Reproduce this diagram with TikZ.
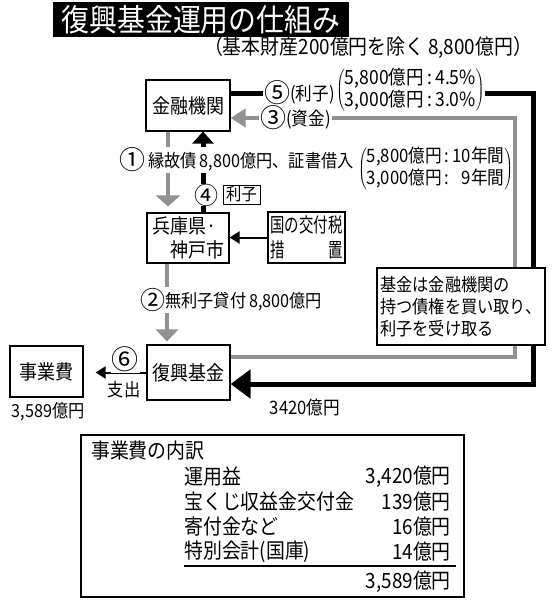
\documentclass[tikz,border=0pt]{standalone}
\usepackage{fontspec}
\setmainfont{Noto Sans CJK JP}[FakeStretch=0.9]
\newfontfamily\narrowfont{Noto Sans CJK JP}[FakeStretch=0.72]
\newfontfamily\circfont{Noto Sans CJK JP}
\usetikzlibrary{arrows.meta,positioning}
\definecolor{fundgray}{RGB}{145,145,145}
\newcommand{\fsize}[2]{\fontsize{#1}{#2}\selectfont}
\newcommand{\circnum}[2][26]{\raisebox{-2pt}{\circfont\fsize{#1}{#1}#2}}
\tikzset{
    frame/.style={
        draw=black,line width=1.1pt,fill=white,align=center,inner sep=2pt
    },
    tag/.style={fill=white,inner sep=1pt},
    mainline/.style={line width=5pt,draw=black},
    fundline/.style={line width=4.5pt,draw=fundgray},
    thinarrow/.style={
        line width=2pt,draw=black,-{Triangle[width=12pt,length=10pt]}
    }
}

\begin{document}
\begin{tikzpicture}[x=1pt,y=-1pt]
\useasboundingbox (0,0) rectangle (555,600);

% title
\node[fill=black,text=white,inner sep=0pt,minimum width=296pt,
minimum height=35pt,font=\fsize{31}{31}] (title) at (201,19.5)
{復興基金運用の仕組み};
\node[font=\fsize{21}{21},inner sep=0pt] (base) at (368,48)
{（基本財産200億円を除く\,8,800億円）};

% boxes
\node[frame,minimum width=84pt,minimum height=51pt,font=\fsize{20}{24}]
(bank) at (188,105.5) {金融機関};
\node[frame,align=left,minimum width=82pt,minimum height=50pt,
font=\fsize{20}{24}] (pref) at (188,238) {兵庫県·\\　神戸市};
\node[frame,align=left,minimum width=77pt,minimum height=51pt,
font=\narrowfont\fsize{20}{25}] (tax) at (306.5,237.5)
{国の交付税\\措　　　置};
\node[frame,minimum width=83pt,minimum height=55pt,font=\fsize{20}{24}]
(fund) at (188.5,372.5) {復興基金};
\node[frame,minimum width=73pt,minimum height=51pt,font=\fsize{20}{24}]
(cost) at (46.5,371.5) {事業費};

% loops on the right
\coordinate (ne) at (533,93);
\coordinate (se) at (533,384);
\coordinate (ni) at (515,118);
\coordinate (si) at (515,357);
\draw[fundline,-{Triangle[width=18pt,length=15pt]}]
(fund.east |- si) -- (si) -- (ni) -- (bank.east |- ni);
\draw[mainline,-{Triangle[width=28pt,length=20pt]}]
(bank.east |- ne) -- (ne) -- (se) -- (fund.east |- se);

% vertical flows
\draw[fundline,-{Triangle[width=24pt,length=11pt]},shorten >=6pt]
([xshift=-20pt]bank.south) -- ([xshift=-20pt]pref.north);
\draw[mainline,-{Triangle[width=21pt,length=12pt]}]
([xshift=15pt]pref.north) -- ([xshift=15pt]bank.south);
\draw[thinarrow] (tax.west) -- (tax.west -| pref.east);
\draw[fundline,-{Triangle[width=22pt,length=12pt]},shorten >=3pt]
([xshift=-21pt]pref.south) -- ([xshift=-21pt]pref.south |- fund.north);
\draw[thinarrow,shorten >=12pt] (fund.west) -- (fund.west -| cost.east);

% labels
\node[tag,anchor=west,inner sep=0pt,font=\fsize{19.5}{18.5}] (rate5) at (336,90)
{$\left(\begin{tabular}{@{}l@{}}5,800億円\,:\,4.5\%\\
3,000億円\,:\,3.0\%\end{tabular}\right)$};
\node[tag,anchor=east,font=\fsize{18.5}{18.5}] (int5)
at ([yshift=-3pt]rate5.west) {\circnum{⑤}(利子)};
\node[tag,anchor=west,font=\fsize{18.5}{18.5}] (cash3) at (259,118)
{\circnum{③}(資金)};
\node[tag,anchor=west,font=\fsize{18}{18}] (loan1) at (118,160)
{\circnum{①}\,縁故債\,8,800億円、証書借入};
\node[anchor=west,inner sep=0pt,font=\fsize{18.5}{22}] (term1) at (358,169)
{$\left(\begin{tabular}{@{}l@{}}5,800億円\,:\,10年間\\
3,000億円\,:\,\phantom{1}9年間\end{tabular}\right)$};
\node[tag,inner sep=0pt,font=\fsize{18}{18}] (n4) at (206,195) {\circnum[24]{④}};
\node[draw,line width=1pt,fill=white,inner sep=1pt,minimum width=37pt,
minimum height=19pt,font=\fsize{17}{17}] (int4) at (241.5,194.5) {利子};
\node[tag,anchor=west,font=\fsize{18}{18}] (loan2) at (139,300)
{\circnum[25]{②}無利子貸付\,8,800億円};
\node[tag,font=\fsize{20}{20}] (n6) at (125,359) {\circnum[27]{⑥}};
\node[font=\fsize{18}{18}] (out6) at (124,390) {支出};
\node[font=\fsize{18}{18}] (costsum) at (48,412) {3,589億円};
\node[font=\fsize{18.5}{18.5}] (gain) at (305,408) {3420億円};

% note on the loops
\node[frame,align=left,inner xsep=3pt,minimum width=168pt,minimum height=77pt,
font=\fsize{18}{22}] (note) at (461,306.5)
{基金は金融機関の\\持つ債権を買い取り、\\利子を受け取る};

% breakdown of costs
\node[draw,line width=1.1pt,inner sep=0pt,minimum width=383pt,
minimum height=162pt] (detail) at (272.5,516) {};
\node[anchor=west,inner sep=0pt,font=\fsize{21}{21}] (head) at (91,450.5)
{事業費の内訳};
\node[anchor=west,inner sep=0pt,font=\fsize{21}{21}] (row1) at (184,476.5) {運用益};
\node[anchor=west,inner sep=0pt,font=\fsize{21}{21}] (row2) at (184,501.5) {宝くじ収益金交付金};
\node[anchor=west,inner sep=0pt,font=\fsize{21}{21}] (row3) at (184,526.5) {寄付金など};
\node[anchor=west,inner sep=0pt,font=\fsize{21}{21}] (row4) at (184,551.5) {特別会計(国庫)};
\node[anchor=east,inner sep=0pt,font=\fsize{21}{21}] (val1) at (451,476.5) {3,420億円};
\node[anchor=east,inner sep=0pt,font=\fsize{21}{21}] (val2) at (451,501.5) {139億円};
\node[anchor=east,inner sep=0pt,font=\fsize{21}{21}] (val3) at (451,526.5) {16億円};
\node[anchor=east,inner sep=0pt,font=\fsize{21}{21}] (val4) at (451,551.5) {14億円};
\node[anchor=east,inner sep=0pt,font=\fsize{21}{21}] (total) at (451,581.5) {3,589億円};
\draw[line width=1.6pt] (184,566) -- (456,566);

\end{tikzpicture}
\end{document}
